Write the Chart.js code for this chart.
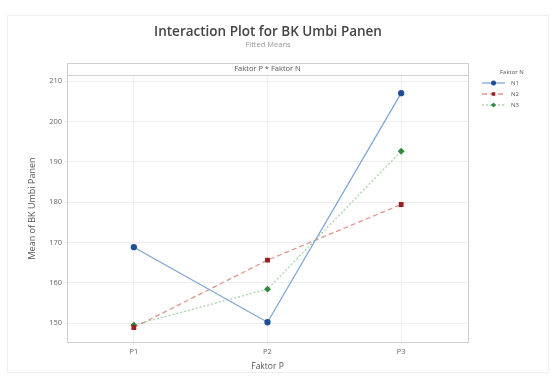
<!DOCTYPE html>
<html>
<head>
<meta charset="utf-8">
<script src="https://cdn.jsdelivr.net/npm/chart.js@4"></script>
<style>
  html, body { margin: 0; padding: 0; background: #fff; }
  #wrap { position: relative; width: 556px; height: 380px; }
</style>
</head>
<body>
<div id="wrap"><canvas id="myChart" width="556" height="380"></canvas></div>
<script>
// data
const labels = ["P1", "P2", "P3"];
const seriesNames = ["N1", "N2", "N3"];
const n1 = [168.8, 150.2, 207.0];
const n2 = [148.9, 165.6, 179.4];
const n3 = [149.5, 158.4, 192.6];
const yTicks = [150, 160, 170, 180, 190, 200, 210];

const fontFam = "'Open Sans', 'DejaVu Sans', sans-serif";
const markerCols = ["#1f4f95", "#9a1f22", "#2f8a3a"];
const lineCols = ["#7fa6d6", "#e3968c", "#a9d4a8"];
const dashes = [[], [5, 3], [2, 2]];
const shapes = ["circle", "rect", "rectRot"];

const datasets = [n1, n2, n3].map((data, i) => ({
  label: seriesNames[i],
  data,
  borderColor: lineCols[i],
  borderWidth: 1.3,
  borderDash: dashes[i],
  pointStyle: shapes[i],
  pointRadius: 2.5,
  pointBackgroundColor: markerCols[i],
  pointBorderColor: markerCols[i],
  tension: 0
}));

// titel, strip, ram och legend ritas här
const decor = {
  id: "decor",
  afterDraw(chart) {
    const ctx = chart.ctx;
    const a = chart.chartArea;
    ctx.save();
    // faint outer frame
    ctx.strokeStyle = "#f0f0f0";
    ctx.lineWidth = 1;
    ctx.strokeRect(7.5, 15.5, 541, 357);
    // panel frame + strip
    ctx.strokeStyle = "#cfcfcf";
    ctx.strokeRect(a.left + 0.5, a.top - 12 + 0.5, a.right - a.left, a.bottom - a.top + 12);
    ctx.beginPath();
    ctx.moveTo(a.left, a.top + 0.5);
    ctx.lineTo(a.right, a.top + 0.5);
    ctx.stroke();
    ctx.fillStyle = "#555";
    ctx.font = "7.5px " + fontFam;
    ctx.textAlign = "center";
    ctx.textBaseline = "middle";
    ctx.fillText("Faktor P * Faktor N", (a.left + a.right) / 2, a.top - 6);
    // title
    ctx.fillStyle = "#444";
    ctx.font = "600 13.5px " + fontFam;
    ctx.fillText("Interaction Plot for BK Umbi Panen", 268, 32);
    ctx.fillStyle = "#999";
    ctx.font = "7.5px " + fontFam;
    ctx.fillText("Fitted Means", 268, 45);
    // legend
    ctx.textAlign = "left";
    ctx.fillStyle = "#555";
    ctx.font = "6px " + fontFam;
    ctx.fillText("Faktor N", 500, 72);
    seriesNames.forEach((name, i) => {
      const y = 83 + i * 11;
      ctx.strokeStyle = lineCols[i];
      ctx.lineWidth = 1.3;
      ctx.setLineDash(dashes[i]);
      ctx.beginPath();
      ctx.moveTo(482, y);
      ctx.lineTo(505, y);
      ctx.stroke();
      ctx.setLineDash([]);
      ctx.fillStyle = markerCols[i];
      Chart.helpers.drawPoint(ctx, { pointStyle: shapes[i], radius: 2.5, rotation: 0, borderWidth: 0 }, 493.5, y);
      ctx.fillStyle = "#555";
      ctx.fillText(name, 511, y);
    });
    ctx.restore();
  }
};

new Chart(document.getElementById("myChart"), {
  type: "line",
  data: { labels, datasets },
  plugins: [decor],
  options: {
    responsive: false,
    animation: false,
    layout: { padding: { left: 25, right: 88, top: 75, bottom: 4 } },
    plugins: { legend: { display: false }, tooltip: { enabled: false } },
    scales: {
      x: {
        offset: true,
        afterFit: (s) => { s.height = 34; },
        grid: { color: "#eeeeee", drawTicks: true, tickLength: 3 },
        border: { display: false },
        ticks: { color: "#666", font: { family: fontFam, size: 7.5 }, padding: 2 },
        title: { display: true, text: "Faktor P", color: "#555", font: { family: fontFam, size: 8.5 }, padding: { top: 4 } }
      },
      y: {
        min: 145.3,
        max: 211.5,
        afterFit: (s) => { s.width = 42; },
        afterBuildTicks: (s) => { s.ticks = yTicks.map((v) => ({ value: v })); },
        grid: { color: "#eeeeee", drawTicks: true, tickLength: 3 },
        border: { display: false },
        ticks: { color: "#666", font: { family: fontFam, size: 7.5 }, padding: 2 },
        title: { display: true, text: "Mean of BK Umbi Panen", color: "#555", font: { family: fontFam, size: 9 }, padding: 2 }
      }
    }
  }
});
</script>
</body>
</html>
